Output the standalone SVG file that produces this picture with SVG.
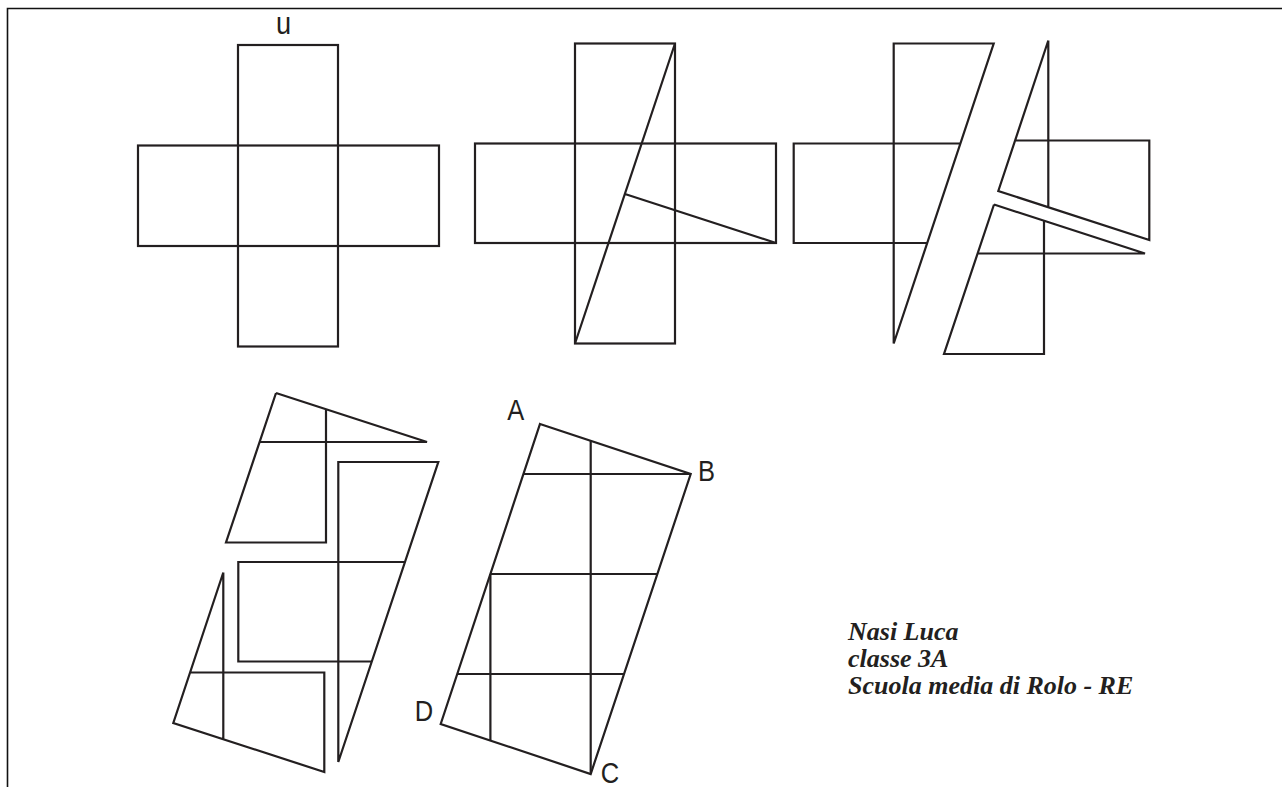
<svg xmlns="http://www.w3.org/2000/svg" width="1282" height="787" viewBox="0 0 1282 787">
<style>
.ln{fill:none;stroke:#231f20;stroke-width:2.2;stroke-linejoin:miter;stroke-miterlimit:4}
.frame{fill:none;stroke:#111;stroke-width:1.6}
.lbl{font-family:"Liberation Sans",Arial,sans-serif;font-size:30px;fill:#231f20;text-anchor:middle}
.note{font-family:"Liberation Serif","Times New Roman",serif;font-size:26px;font-weight:bold;font-style:italic;fill:#231f20}
</style>
<defs>
<path id="pL" class="ln" d="M575,43.5 H675 L575,343.5 Z M575,143.5 H475 V243 H608.5 M575,143.5 H641.7"/>
<path id="pU" class="ln" d="M675,43.5 L625,194 L776,243 V143.5 H641.7 M675,43.5 V210.2"/>
<path id="pD" class="ln" d="M625,194 L776,243 H608.5 M675,210.2 V343.5 H575 L625,194"/>
</defs>
<path id="frame" class="frame" d="M7.5,787 V8.5 H1282"/>
<g id="fig1" class="ln">
<rect x="238" y="45" width="100" height="301.5"/>
<rect x="138" y="145.5" width="301" height="100.5"/>
</g>
<text id="lbl-u" class="lbl" style="font-size:32px" transform="translate(283.5,34) scale(0.85,1)">u</text>
<g id="fig2" class="ln">
<rect x="575" y="43.5" width="100" height="300"/>
<rect x="475" y="143.5" width="301" height="99.5"/>
<path d="M675,43.5 L575,343.5 M625,194 L776,243"/>
</g>
<g id="fig3">
<use href="#pL" transform="translate(318.7,0)"/>
<use href="#pU" transform="translate(373.3,-3)"/>
<use href="#pD" transform="translate(369,10.5)"/>
</g>
<g id="fig4">
<use href="#pU" transform="translate(-451.7,529)"/>
<use href="#pD" transform="translate(-349,199)"/>
<use href="#pL" transform="translate(-236.7,418.5)"/>
</g>
<g id="fig5" class="ln">
<path d="M540,424 L690.7,474 L590.7,774 L440.7,724 Z"/>
<path d="M590.7,440.8 V774 M523.3,474 H690.7 M490.4,574 H657.4 M457.3,674 H624 M490.4,574 V740.5"/>
</g>
<g id="labels">
<text class="lbl" transform="translate(515.7,420) scale(0.85,1)">A</text>
<text class="lbl" transform="translate(706.5,480.5) scale(0.85,1)">B</text>
<text class="lbl" transform="translate(610,783) scale(0.85,1)">C</text>
<text class="lbl" transform="translate(424,720.5) scale(0.85,1)">D</text>
</g>
<g id="note">
<text class="note" x="848" y="639.7">Nasi Luca</text>
<text class="note" x="848" y="666.7">classe 3A</text>
<text class="note" x="848" y="693.7">Scuola media di Rolo - RE</text>
</g>
</svg>
